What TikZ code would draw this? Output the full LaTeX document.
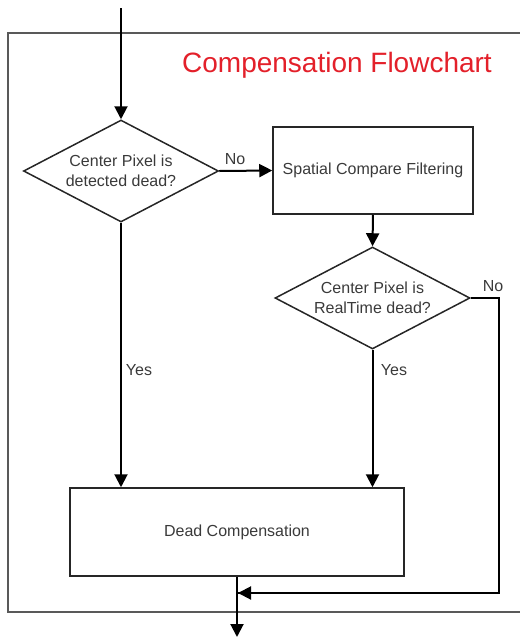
\documentclass[tikz,border=0pt]{standalone}
\usepackage{fontspec}
\setmainfont{Liberation Sans}
\usetikzlibrary{shapes.geometric,arrows.meta}
\definecolor{txt}{HTML}{3A3A3A}
\definecolor{ttl}{HTML}{E3202A}
\begin{document}
\begin{tikzpicture}[x=1pt,y=-1pt,
  lbl/.style={text=txt,font=\fontsize{16}{20}\selectfont,inner sep=0pt},
  decision/.style={shape=diamond,draw=black!85,line width=1.5pt,aspect=1.91,inner sep=0pt,
    minimum width=195pt,minimum height=102pt,align=center,text=txt,font=\fontsize{16}{20}\selectfont},
  process/.style={shape=rectangle,draw=black!85,line width=1.5pt,inner sep=0pt,
    text=txt,font=\fontsize{16}{20}\selectfont},
  flow/.style={draw=black,line width=2pt,-{Triangle[length=13pt,width=13pt]}},
  plain/.style={draw=black,line width=2pt},
  frame/.style={draw=black!65,line width=1.6pt}]
\useasboundingbox (0,0) rectangle (520,638);
% outer frame (right side runs off the picture)
\draw[frame] (521,33) -- (8,33) -- (8,612) -- (521,612);
\node[text=ttl,font=\fontsize{28}{32}\selectfont,inner sep=0pt] (title) at (337,65) {Compensation Flowchart};
% nodes
\coordinate (start) at (121,8);
\node[decision] (d1) at (121,171) {Center Pixel is\\detected dead?};
\node[process,minimum width=200pt,minimum height=87pt] (r1) at (373,170.5) {Spatial Compare Filtering};
\node[decision] (d2) at (372.5,298) {Center Pixel is\\RealTime dead?};
\node[process,minimum width=334pt,minimum height=88pt] (r2) at (237,532) {Dead Compensation};
\coordinate (corner1) at (499,298);
\coordinate (corner2) at (499,593);
\coordinate (join) at (237,593);
\coordinate (finish) at (237,637);
% connectors
\draw[flow] (start) -- (d1.north);
\draw[flow] (d1.east) -- (r1.west);
\draw[flow] (r1.south) -- (d2.north);
\draw[flow] (d1.south) -- (d1.south |- r2.north);
\draw[flow] (d2.south) -- (d2.south |- r2.north);
\draw[plain] (d2.east) -- (corner1) -- (corner2) -- ([xshift=1pt]join);
\draw[flow] (corner2) -- ([xshift=1pt]join);
\draw[flow] (r2.south) -- (finish);
% labels
\node[lbl] (no1) at (235,159) {No};
\node[lbl] (no2) at (493,286) {No};
\node[lbl] (yes1) at (139,370) {Yes};
\node[lbl] (yes2) at (394,370) {Yes};
\end{tikzpicture}
\end{document}
